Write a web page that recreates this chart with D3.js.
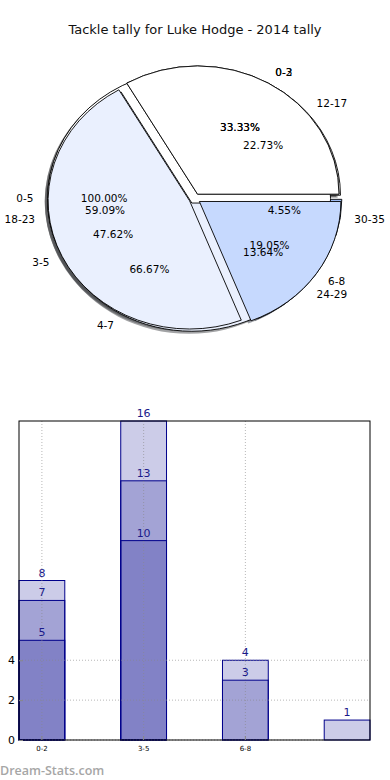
<!DOCTYPE html>
<html><head><meta charset="utf-8">
<script src="https://cdn.jsdelivr.net/npm/d3@7"></script>
<style>body{margin:0;background:#fff}svg{display:block}text{font-family:"DejaVu Sans",sans-serif}</style>
</head><body>
<script>
// ---- data ----
const title = "Tackle tally for Luke Hodge - 2014 tally";
// overlaid pies (drawn bottom to top)
const pieALabels = ["12-17","18-23","24-29","30-35"];
const pieAValues = [5,13,3,1];
const pieBLabels = ["0-5"];
const pieBValues = [22];
const pieCLabels = ["0-3","4-7"];
const pieCValues = [5,10];
const pieDLabels = ["0-2","3-5","6-8"];
const pieDValues = [7,10,4];
const pieColors = ["#ffffff","#eaf0fe","#c6d9fe","#9fbdf5"];

// bar chart
const categories = ["0-2","3-5","6-8","9-11"];
const xTickLabels = ["0-2","3-5","6-8"];
const seriesHigh = [8,16,4,1];
const seriesMid  = [7,13,3,0];
const seriesLow  = [5,10,0,0];
const yTicks = [0,2,4];

const W=390,H=780;
const svg=d3.select("body").append("svg").attr("width",W).attr("height",H);

svg.append("text").attr("x",195).attr("y",34).attr("text-anchor","middle")
  .attr("font-size",13).attr("fill","#111").text(title);

// ---- pies ----
const cx=194.7, cy=198.6, rx=141.5, ry=128.2, ex=0.04, R=100;
const pies=[[pieALabels,pieAValues],[pieBLabels,pieBValues],[pieCLabels,pieCValues],[pieDLabels,pieDValues]];
const pieGen=d3.pie().sort(null).value(d=>d).startAngle(Math.PI/2).endAngle(Math.PI/2-2*Math.PI);
const arc=d3.arc().innerRadius(0).outerRadius(R);
const shadowG=svg.append("g"), wedgeG=svg.append("g"), textG=svg.append("g");
pies.forEach(([labels,vals])=>{
  const total=d3.sum(vals);
  pieGen(vals).forEach((a,i)=>{
    const mid=(a.startAngle+a.endAngle)/2;
    const ux=Math.sin(mid), uy=-Math.cos(mid);
    const ox=cx+ux*ex*rx, oy=cy+uy*ex*ry;
    const col=d3.color(pieColors[i%pieColors.length]);
    const sc=d3.rgb(col.r*0.3,col.g*0.3,col.b*0.3);
    shadowG.append("path").attr("d",arc(a))
      .attr("transform",`translate(${ox-0.02*rx},${oy+0.02*ry}) scale(${rx/R},${ry/R})`)
      .attr("fill",sc).attr("fill-opacity",0.5);
    wedgeG.append("path").attr("d",arc(a))
      .attr("transform",`translate(${ox},${oy}) scale(${rx/R},${ry/R})`)
      .attr("fill",col).attr("stroke","#000").attr("stroke-width",0.9)
      .attr("vector-effect","non-scaling-stroke");
    const lx=ox+1.1*rx*ux, ly=oy+1.1*ry*uy;
    textG.append("text").attr("x",lx).attr("y",ly).attr("dy","0.36em")
      .attr("text-anchor",ux>0?"start":"end").attr("font-size",10.5).attr("fill","#000")
      .text(labels[i]);
    textG.append("text").attr("x",ox+0.6*rx*ux).attr("y",oy+0.6*ry*uy).attr("dy","0.36em")
      .attr("text-anchor","middle").attr("font-size",10.5).attr("fill","#000")
      .text((vals[i]/total*100).toFixed(2)+"%");
  });
});

// ---- bars ----
const L=19,Rr=370,T=421,B=740;
const x=d3.scaleBand().domain(categories).range([L,Rr]).paddingInner(0.55).paddingOuter(0);
const y=d3.scaleLinear().domain([0,16]).range([B,T]);
const navy="#00008b";
const bg=svg.append("g");
[seriesHigh,seriesMid,seriesLow].forEach(s=>{
  bg.selectAll(null).data(s.map((v,i)=>({v,c:categories[i]})).filter(d=>d.v>0)).enter()
    .append("rect").attr("x",d=>x(d.c)).attr("width",x.bandwidth())
    .attr("y",d=>y(d.v)).attr("height",d=>B-y(d.v))
    .attr("fill",navy).attr("fill-opacity",0.2).attr("stroke",navy).attr("stroke-width",1);
});
// grid
const grid=svg.append("g").attr("stroke","#888").attr("stroke-opacity",0.6).attr("stroke-dasharray","1,2").attr("stroke-width",1);
xTickLabels.forEach(c=>{const px=x(c)+x.bandwidth()/2;
  grid.append("line").attr("x1",px).attr("x2",px).attr("y1",T).attr("y2",B);});
yTicks.forEach(t=>{grid.append("line").attr("x1",L).attr("x2",Rr).attr("y1",y(t)).attr("y2",y(t));});
// value labels
[seriesHigh,seriesMid,seriesLow].forEach(s=>{
  s.forEach((v,i)=>{ if(v>0) svg.append("text").attr("x",x(categories[i])+x.bandwidth()/2).attr("y",y(v)-4)
    .attr("text-anchor","middle").attr("font-size",11).attr("fill","#1a1a8a").text(v);});
});
// frame
svg.append("rect").attr("x",L).attr("y",T).attr("width",Rr-L).attr("height",B-T)
  .attr("fill","none").attr("stroke","#000").attr("stroke-width",1);
// axes
const yAx=svg.append("g").attr("transform",`translate(${L},0)`)
  .call(d3.axisLeft(y).tickValues(yTicks).tickSize(-4).tickPadding(4).tickFormat(d3.format("d")));
yAx.select(".domain").remove();
yAx.selectAll("text").attr("font-size",11).attr("fill","#000").style("font-family","DejaVu Sans");
yAx.selectAll("line").attr("stroke","#888");
const xAx=svg.append("g").attr("transform",`translate(0,${B})`)
  .call(d3.axisBottom(x).tickValues(xTickLabels).tickSize(-4).tickPadding(6));
xAx.select(".domain").remove();
xAx.selectAll("text").attr("font-size",7).attr("fill","#000").style("font-family","DejaVu Sans");
xAx.selectAll("line").attr("stroke","#888");

svg.append("text").attr("x",0).attr("y",775).attr("font-size",12.5).attr("font-weight",600)
  .attr("fill","#a6a6a6").style("font-family","'Open Sans'").text("Dream-Stats.com");
</script>
</body></html>
